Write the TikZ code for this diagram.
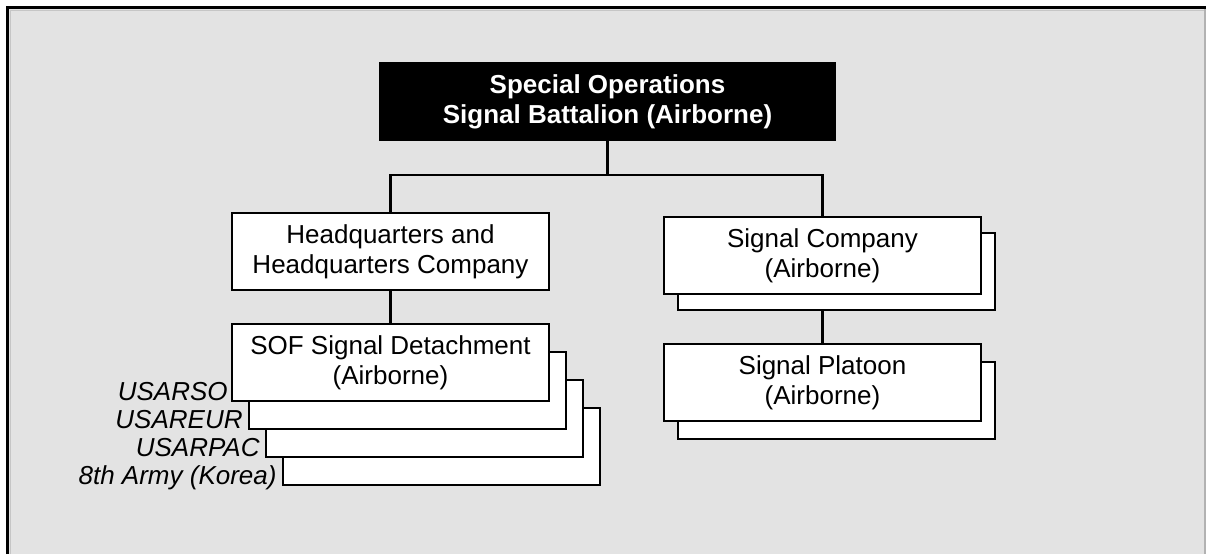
\documentclass[tikz,border=0pt]{standalone}
\usepackage{fontspec}
\setmainfont{Liberation Sans}
\usetikzlibrary{positioning}
\definecolor{panel}{HTML}{E3E3E3}
\tikzset{
	unit/.style={draw=black,line width=1pt,fill=white,minimum width=158.5pt,minimum height=38.5pt,
		align=center,inner sep=0pt,font=\fontsize{13}{15}\selectfont},
	cmd/.style={unit,fill=black,text=white,minimum width=227.5pt,font=\fontsize{13}{15}\selectfont\bfseries},
	tag/.style={anchor=base east,inner sep=0pt,font=\fontsize{13}{15}\selectfont\itshape},
	link/.style={line width=1.3pt}
}
\begin{document}
\begin{tikzpicture}[x=0.5pt,y=-0.5pt]
	\useasboundingbox (0,0) rectangle (1206,554);
	\fill[white] (0,0) rectangle (1206,554);
	\fill[panel] (7.5,7.5) rectangle (1206,554);
	\draw[gray!45,line width=0.6pt] (10.5,554) -- (10.5,10.5) -- (1204,10.5);
	\draw[gray!60,line width=1pt] (1205,7.5) -- (1205,554);
	\draw[line width=1.5pt] (7.5,554) -- (7.5,7.5) -- (1206,7.5);
	
	\node[cmd] (sosb) at (607.5,101.5) {Special Operations\\Signal Battalion (Airborne)};
	\node[unit] (hhc) at (390.5,251.5) {Headquarters and\\Headquarters Company};
	% detachment stack, back to front
	\foreach \i/\where in {3/8th Army (Korea),2/USARPAC,1/USAREUR}{
		\node[unit] (det\i) at ({390.5+17*\i},{362.5+28*\i}) {};
		\node[tag] at ([xshift=-2.5pt,yshift=1pt]det\i.south west) {\where};
	}
	\node[unit] (sof) at (390.5,362.5) {SOF Signal Detachment\\(Airborne)};
	\node[tag] at ([xshift=-1.5pt,yshift=1pt]sof.south west) {USARSO};
	
	\node[unit] (sigback) at (836.5,271.5) {};
	\node[unit] (sigco) at (822.5,255.5) {Signal Company\\(Airborne)};
	\node[unit] (pltback) at (836.5,400.5) {};
	\node[unit] (plt) at (822.5,382.5) {Signal Platoon\\(Airborne)};
	
	\coordinate (bus) at (607.5,175);
	\draw[link] (sosb.south) -- (bus);
	\draw[link] (hhc.north) |- (bus) -| (sigco.north);
	\draw[link] (hhc.south) -- (sof.north);
	\draw[link] (sigback.south -| sigco.south) -- (plt.north);
\end{tikzpicture}
\end{document}
